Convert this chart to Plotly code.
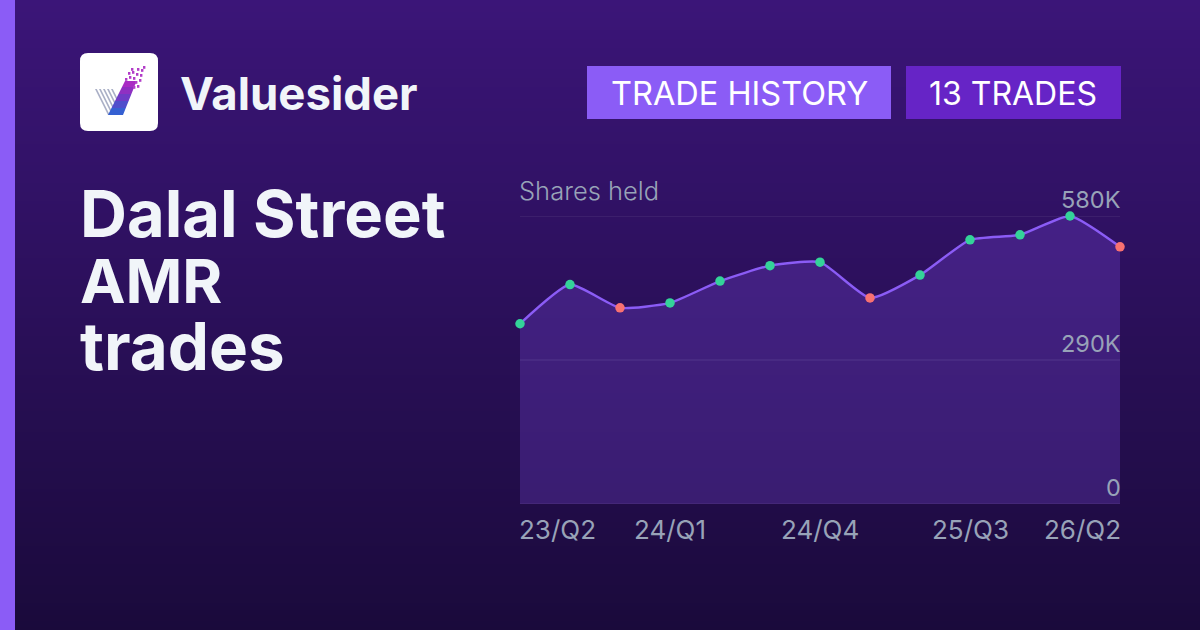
import plotly.graph_objects as go

quarter_idx = [0, 1, 2, 3, 4, 5, 6, 7, 8, 9, 10, 11, 12]
shares_k = [363, 442, 395, 405, 449, 480, 487, 415, 461, 532, 542, 580, 518]
# 1 = bought (green), 0 = sold (red)
bought = [1, 1, 0, 1, 1, 1, 1, 0, 1, 1, 1, 1, 0]
tick_idx = [0, 3, 6, 9, 12]
tick_labels = ['23/Q2', '24/Q1', '24/Q4', '25/Q3', '26/Q2']
y_ticks = [580, 290, 0]
y_labels = ['580K', '290K', '0']

W, H = 1200, 630
FONT = 'Inter'
GREY = '#98a3b8'

fig = go.Figure()
fig.add_trace(go.Scatter(
    x=quarter_idx, y=shares_k, mode='lines+markers', fill='tozeroy',
    fillcolor='rgba(139,84,246,0.24)',
    line=dict(color='#8b5cf6', width=2.4, shape='spline', smoothing=0.5),
    marker=dict(size=9.5, color=['#34d399' if b else '#f87171' for b in bought]),
    cliponaxis=False, showlegend=False, hoverinfo='skip'))


def px(x):
    return x / W


def py(y):
    return 1 - y / H


def rect(x0, y0, x1, y1, color, layer='below'):
    return dict(type='rect', xref='paper', yref='paper', layer=layer,
                x0=px(x0), x1=px(x1), y0=py(y0), y1=py(y1),
                fillcolor=color, line_width=0)


def poly(points, color):
    path = 'M' + ' L'.join(f'{px(x):.5f},{py(y):.5f}' for x, y in points) + ' Z'
    return dict(type='path', xref='paper', yref='paper', layer='above',
                path=path, fillcolor=color, line_width=0)


def text(x, y, s, size, color, anchor='left', weight=400, height=None):
    return dict(xref='paper', yref='paper', x=px(x), y=py(y), text=s, showarrow=False,
                xanchor=anchor, yanchor='middle', borderpad=0, height=height,
                font=dict(family=FONT, size=size, color=color, weight=weight))


# page background, vertical gradient
top = (0x3b, 0x15, 0x78)
bottom = (0x1a, 0x0a, 0x3b)
shapes = []
for y in range(0, H, 3):
    t = y / H
    c = [round(a + (b - a) * t) for a, b in zip(top, bottom)]
    shapes.append(rect(0, y, W, y + 3, f'rgb({c[0]},{c[1]},{c[2]})'))

shapes.append(rect(0, 0, 15, H, '#8b5cf6'))
shapes.append(rect(587, 66, 891, 119, '#8b5cf6'))
shapes.append(rect(906, 66, 1121, 119, '#6624c6'))

# gridlines as shapes, plotly drops grid at the range ends
for v in y_ticks:
    shapes.append(dict(type='line', xref='x', yref='y', layer='below', x0=0, x1=12, y0=v, y1=v,
                       line=dict(color='rgba(255,255,255,0.12)', width=1)))

# logo tile
r = 8
shapes.append(dict(type='path', xref='paper', yref='paper', layer='above', fillcolor='white', line_width=0,
                   path=f'M{px(80 + r)},{py(53)} L{px(158 - r)},{py(53)} Q{px(158)},{py(53)} {px(158)},{py(53 + r)} '
                        f'L{px(158)},{py(131 - r)} Q{px(158)},{py(131)} {px(158 - r)},{py(131)} '
                        f'L{px(80 + r)},{py(131)} Q{px(80)},{py(131)} {px(80)},{py(131 - r)} '
                        f'L{px(80)},{py(53 + r)} Q{px(80)},{py(53)} {px(80 + r)},{py(53)} Z'))
# logo grey stripes
for i in range(5):
    x = 95 + i * 4
    end = 210 - x
    shift = (end - 89) * 0.5
    shapes.append(poly([(x, 89), (x + 1.8, 89), (x + 1.8 + shift, end), (x + shift, end)], '#aab0c6'))
# logo check, blue to magenta
check = [('#3560d2', 115, 108), ('#4f4ecc', 108, 101), ('#6f3cc6', 101, 94), ('#8f30c2', 94, 87), ('#a92cc4', 87, 81)]
for color, y0, y1 in check:
    x0 = 108 + (115 - y0) * 0.5
    x1 = 108 + (115 - y1) * 0.5
    w0 = 15 - (115 - y0) * 0.1
    w1 = 15 - (115 - y1) * 0.1
    shapes.append(poly([(x0, y0), (x0 + w0, y0), (x1 + w1, y1), (x1, y1)], color))
# logo pixel bits
bits = [(125, 78), (129, 76), (133, 77), (128, 72), (132, 71), (136, 73), (137, 68), (141, 69), (140, 74),
        (135, 81), (139, 79), (133, 86), (137, 85), (131, 68), (143, 66)]
for x, y in bits:
    shapes.append(rect(x, y, x + 2.4, y + 2.8, '#b23cc8', layer='above'))

annotations = [
    text(179, 93, 'Valuesider', 45.5, '#f1f5f9', weight=700),
    text(739, 93, 'TRADE HISTORY', 32.5, '#ffffff', 'center'),
    text(1013, 93, '13 TRADES', 32, '#ffffff', 'center'),
    text(79, 213, 'Dalal Street', 65, '#f1f5f9', weight=700, height=60),
    text(79, 281, 'AMR', 61, '#f1f5f9', weight=700, height=60),
    text(79, 346, 'trades', 65.5, '#f1f5f9', weight=700, height=60),
    text(518, 190, 'Shares held', 25.5, GREY, weight=300),
]
for v, lab in zip(y_ticks, y_labels):
    annotations.append(dict(xref='paper', yref='y', x=px(1122), y=v, text=lab, showarrow=False,
                            xanchor='right', yanchor='bottom', yshift=1, borderpad=0,
                            font=dict(family=FONT, size=23.5, color=GREY)))
anchors = ['left', 'center', 'center', 'center', 'right']
shifts = [-2, 0, 0, 0, 2]
for i, lab, a, s in zip(tick_idx, tick_labels, anchors, shifts):
    annotations.append(dict(xref='x', yref='paper', x=i, y=py(529), text=lab, showarrow=False,
                            xanchor=a, yanchor='middle', borderpad=0, xshift=s,
                            font=dict(family=FONT, size=26, color=GREY)))

fig.update_layout(
    width=W, height=H, margin=dict(l=0, r=0, t=0, b=0),
    paper_bgcolor='#1a0a3b', plot_bgcolor='rgba(0,0,0,0)',
    shapes=shapes, annotations=annotations,
    xaxis=dict(domain=[px(520), px(1120)], range=[0, 12], showgrid=False, zeroline=False,
               showticklabels=False, ticks='', fixedrange=True),
    yaxis=dict(domain=[py(504), py(216)], range=[0, 580], tickvals=y_ticks, showticklabels=False,
               showgrid=False, zeroline=False, ticks='', fixedrange=True),
)
fig.write_html("out.html", config=dict(displayModeBar=False),
               post_script="document.body.style.margin='0';document.body.style.overflow='hidden';")
